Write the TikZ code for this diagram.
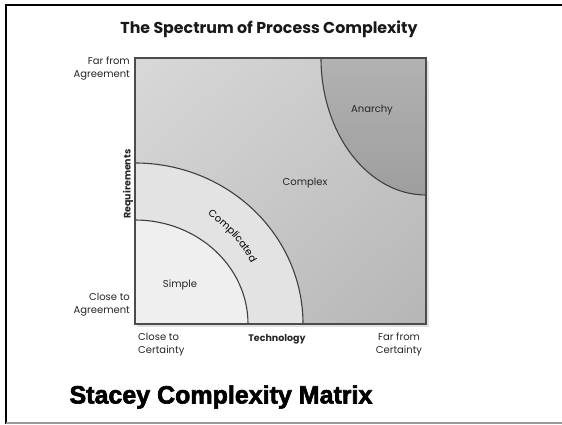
\documentclass[tikz,border=0pt]{standalone}
\usepackage{fontspec}
\setmainfont{Poppins}
\newfontfamily\heavyfont[FakeBold=2.5]{Liberation Sans Bold}
\usetikzlibrary{calc,positioning,shadings,decorations.text}

\definecolor{cxlight}{HTML}{D8D8D8}
\definecolor{cxmid}{HTML}{C8C8C8}
\definecolor{cxdark}{HTML}{B6B6B6}
\definecolor{anlight}{HTML}{B2B2B2}
\definecolor{andark}{HTML}{9E9E9E}
\definecolor{cpgray}{HTML}{E3E3E3}
\definecolor{smgray}{HTML}{EFEFEF}

\begin{document}
\begin{tikzpicture}[x=1pt, y=1pt]

\tikzset{
frame/.style={draw=black, line width=2.6pt},
border/.style={draw=black!70, line width=1.3pt},
arcline/.style={draw=black!75, line width=1.1pt},
lab/.style={font=\fontsize{10}{13}\selectfont, text=black!85, inner sep=2pt},
labbold/.style={lab, font=\bfseries\fontsize{9.5}{13}\selectfont},
title/.style={font=\bfseries\fontsize{15.8}{18}\selectfont, text=black!90},
heavy/.style={font=\heavyfont\fontsize{25}{28}\selectfont}
}

\useasboundingbox (0,0) rectangle (562,424);

% Frame
\draw[frame] (562,419) -- (6,419) -- (6,0);
\draw[gray!80, line width=1.2pt] (6,1) -- (562,1);

% Nodes
\coordinate (sw) at (135,100);
\coordinate (ne) at (426,366);
\coordinate (anstart) at ($(ne) + (-105,0)$);
\coordinate (cpstart) at ($(sw) + (0,161)$);
\coordinate (smstart) at ($(sw) + (0,104)$);

% Regions
\fill[black!12] ($(sw) + (2,-3)$) rectangle ($(ne) + (3,-3)$);
\shade[upper left=cxlight, upper right=cxmid, lower left=cxmid, lower right=cxdark] (sw) rectangle (ne);
\shade[top color=anlight, bottom color=andark] (ne) -- (anstart) arc[start angle=180, end angle=270, x radius=105, y radius=137] -- cycle;
\fill[cpgray] (sw) -- (cpstart) arc[start angle=90, end angle=0, x radius=168, y radius=161] -- cycle;
\fill[smgray] (sw) -- (smstart) arc[start angle=90, end angle=0, x radius=113, y radius=104] -- cycle;

% Arcs
\draw[arcline] (anstart) arc[start angle=180, end angle=270, x radius=105, y radius=137];
\draw[arcline] (cpstart) arc[start angle=90, end angle=0, x radius=168, y radius=161];
\draw[arcline] (smstart) arc[start angle=90, end angle=0, x radius=113, y radius=104];
\draw[border] (sw) rectangle (ne);

% Labels
\node[title] (title) at (269,395) {The Spectrum of Process Complexity};
\node[lab, anchor=east, align=right] (farag) at (132,355.5) {Far from\\Agreement};
\node[lab, anchor=east, align=right] (closeag) at (132,119) {Close to\\Agreement};
\node[labbold, rotate=90] (req) at (128,240) {Requirements};
\node[lab, anchor=west, align=left] (closecert) at (136,79.5) {Close to\\Certainty};
\node[labbold] (tech) at (277,85) {Technology};
\node[lab, align=center] (farcert) at (399,79.5) {Far from\\Certainty};
\node[lab] (anarchy) at (372,314) {Anarchy};
\node[lab] (complex) at (305,241) {Complex};
\node[lab] (simple) at (180,139) {Simple};
\path[decorate, decoration={text along path, text align=center, text={|\fontsize{10}{12}\selectfont|Complicated}}] ($(sw) + (66:131)$) arc[start angle=66, end angle=18, radius=131];

\node[heavy] (stacey) at (221,27) {Stacey Complexity Matrix};

\end{tikzpicture}
\end{document}
